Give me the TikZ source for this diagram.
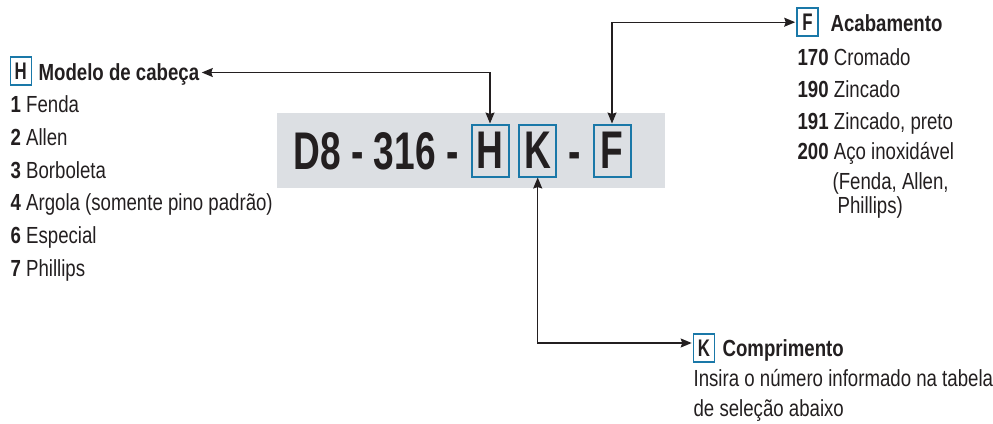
\documentclass[tikz,border=0pt]{standalone}
\usepackage{fontspec}
\setmainfont{Liberation Sans}[FakeStretch=0.8]
\newfontfamily\codefont{Liberation Sans}[FakeStretch=0.7]
\usetikzlibrary{positioning,arrows.meta,calc}
\definecolor{codeblue}{HTML}{1A78A8}
\definecolor{codegray}{HTML}{DCDFE3}
\definecolor{inkgray}{HTML}{231F20}
\tikzset{
  >={Stealth[length=11pt,width=9pt,inset=1.5pt]},
  letterbox/.style={draw=codeblue, line width=1.6pt, minimum width=21pt,
    minimum height=28pt, inner sep=0pt, font=\codefont\bfseries\fontsize{24}{28}\selectfont},
  bigletter/.style={letterbox, line width=2pt, minimum width=37pt,
    minimum height=52pt, font=\codefont\bfseries\fontsize{53}{60}\selectfont},
  item/.style={anchor=base west, inner sep=0pt, font=\fontsize{23.3}{28}\selectfont},
  label/.style={item, font=\bfseries\fontsize{23.3}{28}\selectfont},
}

\begin{document}
\begin{tikzpicture}[x=1pt,y=-1pt, line width=1.2pt, color=inkgray]
\useasboundingbox (0,0) rectangle (993,423);

% Code
\fill[codegray] (277,113) rectangle (665,188);
\node[anchor=base east, inner sep=0pt, font=\codefont\bfseries\fontsize{53}{60}\selectfont] (code) at (459,169) {D8 - 316 -};
\node[bigletter] (boxH) at (490,150.5) {H};
\node[bigletter] (boxK) at (537.7,150.5) {K};
\node[anchor=base, inner sep=0pt, font=\codefont\bfseries\fontsize{53}{60}\selectfont] (dash) at (575,169) {-};
\node[bigletter] (boxF) at (612,150.5) {F};

% Head type
\node[letterbox] (tagH) at (20.8,70.8) {H};
\node[label, text height=15pt, text depth=0pt] (labH) at (38,80) {Modelo de cabeça};
\foreach \n/\t [count=\i] in {1/Fenda, 2/Allen, 3/Borboleta, 4/Argola (somente pino padrão), 6/Especial, 7/Phillips}
  \node[item] (itemH\i) at (10,80+\i*32.7) {\textbf{\n} \t};

% Finish
\node[letterbox] (tagF) at (807.5,22.2) {F};
\node[label] (labF) at (830,31.7) {Acabamento};
\foreach \n/\t/\y [count=\i] in {170/Cromado/65, 190/Zincado/97, 191/{Zincado, preto}/129, 200/{Aço inoxidável}/159}
  \node[item] (itemF\i) at (797,\y) {\textbf{\n} \t};
\node[item] (itemF5) at (832,189) {(Fenda, Allen,};
\node[item] (itemF6) at (837,213) {Phillips)};

% Length
\node[letterbox] (tagK) at (704,348) {K};
\node[label] (labK) at (722,356.7) {Comprimento};
\node[item] (descK1) at (693,386.7) {Insira o número informado na tabela};
\node[item] (descK2) at (693,416.7) {de seleção abaixo};

% Connectors
\draw[<->] ([xshift=2pt]labH.east) -| (boxH.north);
\draw[<->] (boxF.north) |- ([xshift=-1pt]tagF.west);
\draw[<->] (boxK.south) |- ([xshift=-1pt,yshift=5pt]tagK.west);

\end{tikzpicture}
\end{document}
